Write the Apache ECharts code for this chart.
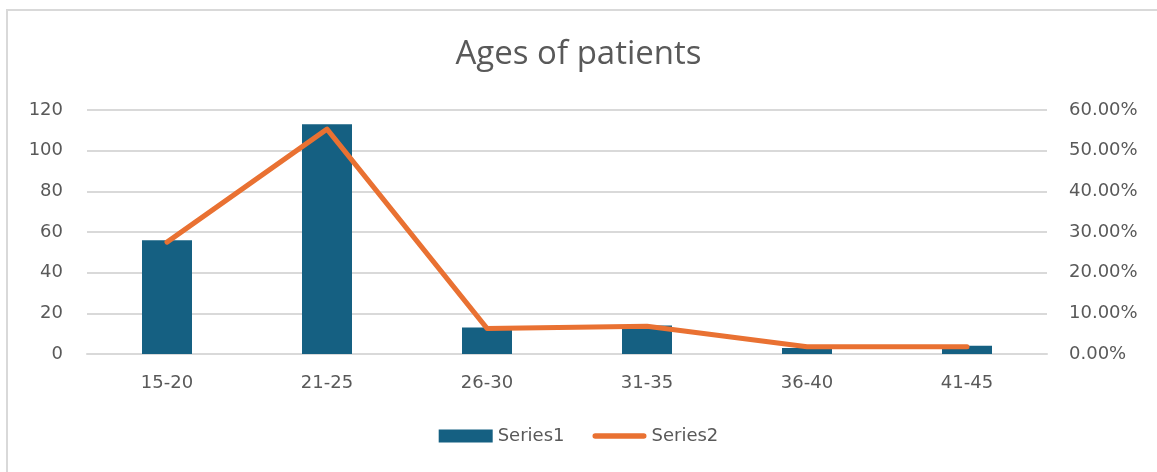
<!DOCTYPE html>
<html>
<head>
<meta charset="utf-8">
<script src="https://cdn.jsdelivr.net/npm/echarts@6/dist/echarts.min.js"></script>
<style>
    html, body { margin: 0; padding: 0; background: #fff; }
    #frame { position: absolute; left: 6px; top: 9px; width: 1170px; height: 470px; border: 2px solid #d9d9d9; box-sizing: border-box; }
    #ages { position: absolute; left: 0; top: 0; width: 1157px; height: 472px; }
</style>
</head>
<body>
<div id="frame"></div>
<div id="ages"></div>
<script>
var ageGroups = ["15-20", "21-25", "26-30", "31-35", "36-40", "41-45"];
var series1 = [56, 113, 13, 14, 3, 4];
var series2 = [0.275, 0.553, 0.063, 0.068, 0.018, 0.018];

var agesChart = echarts.init(document.getElementById('ages'));

var labelStyle = {
    color: '#595959',
    fontSize: 18,
    fontFamily: 'DejaVu Sans'
};

var agesOption = {
    title: {
        text: 'Ages of patients',
        left: 'center',
        top: 33,
        textStyle: {
            color: '#595959',
            fontSize: 33,
            fontWeight: 'normal',
            fontFamily: 'Open Sans'
        }
    },
    legend: {
        bottom: 22,
        left: 'center',
        itemGap: 28,
        itemWidth: 54,
        itemHeight: 13,
        textStyle: Object.assign({padding: [0, 0, 0, 0]}, labelStyle),
        data: [
            {name: 'Series1', icon: 'rect'},
            {name: 'Series2', icon: 'path://M3,0 h52 a3,3 0 0 1 0,6 h-52 a3,3 0 0 1 0,-6 z'}
        ]
    },
    grid: {
        left: 87,
        right: 110,
        top: 110,
        bottom: 118
    },
    xAxis: {
        type: 'category',
        data: ageGroups,
        axisTick: {show: false},
        axisLine: {lineStyle: {color: '#d9d9d9', width: 2}},
        axisLabel: Object.assign({margin: 20}, labelStyle)
    },
    yAxis: [{
        type: 'value',
        min: 0,
        max: 120,
        interval: 20,
        axisLine: {show: false},
        axisTick: {show: false},
        splitLine: {lineStyle: {color: '#d9d9d9', width: 2}},
        axisLabel: Object.assign({margin: 24}, labelStyle)
    }, {
        type: 'value',
        min: 0,
        max: 0.6,
        interval: 0.1,
        position: 'right',
        axisLine: {show: false},
        axisTick: {show: false},
        splitLine: {show: false},
        axisLabel: Object.assign({
            margin: 22,
            formatter: function (v) { return (v * 100).toFixed(2) + '%'; }
        }, labelStyle)
    }],
    series: [{
        name: 'Series1',
        type: 'bar',
        data: series1,
        barWidth: 50,
        itemStyle: {color: '#156082'}
    }, {
        name: 'Series2',
        type: 'line',
        yAxisIndex: 1,
        data: series2,
        showSymbol: false,
        symbol: 'none',
        lineStyle: {color: '#E97132', width: 5, cap: 'round', join: 'round'},
        itemStyle: {color: '#E97132'}
    }]
};

agesChart.setOption(agesOption);
</script>
</body>
</html>
